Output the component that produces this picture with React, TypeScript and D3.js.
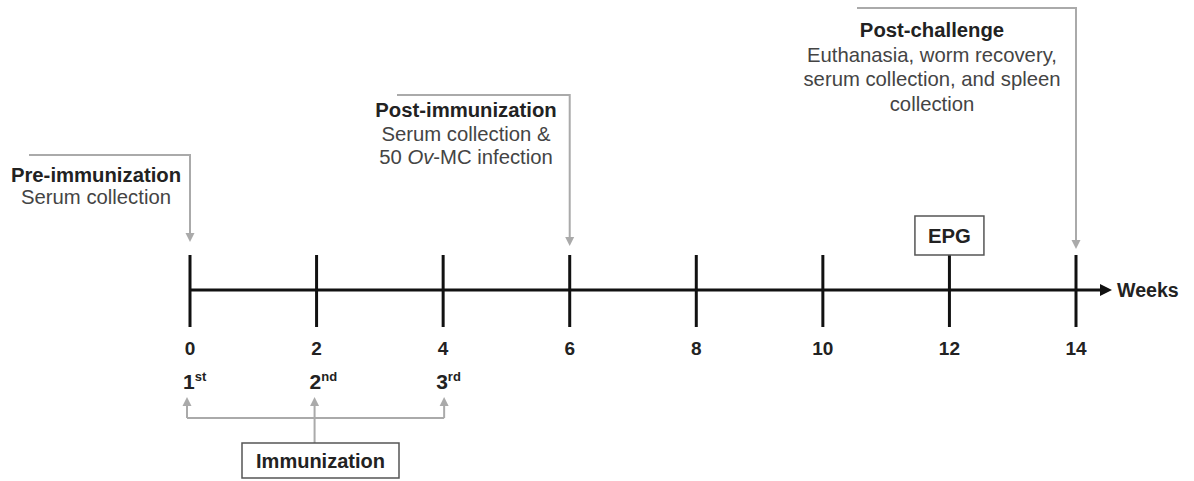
import React from "react";
import * as d3 from "d3";

const weeks = [0, 2, 4, 6, 8, 10, 12, 14];
const immunizationWeeks = [0, 2, 4];
const immunizationNumbers = ["1", "2", "3"];
const immunizationSuffixes = ["st", "nd", "rd"];
const eventWeeks = [0, 6, 14];
const eventTitles = ["Pre-immunization", "Post-immunization", "Post-challenge"];
const eventLines: (string | [string, string, string])[][] = [
  ["Serum collection"],
  ["Serum collection &", ["50 ", "Ov", "-MC infection"]],
  ["Euthanasia, worm recovery,", "serum collection, and spleen", "collection"],
];
const epgWeek = 12;
const axisLabel = "Weeks";
const boxLabel = "Immunization";

const W = 1194;
const H = 481;
const FONT = "'Liberation Sans', Arial, sans-serif";
const GRAY = "#aaaaaa";

// layout of each annotation: text centre x, bracket top y, title baseline, leading
const eventLayout = [
  { cx: 96, lineY: 155, titleY: 182, lead: 22, startX: 29, tipY: 242 },
  { cx: 466, lineY: 95, titleY: 117, lead: 23.5, startX: 397, tipY: 246 },
  { cx: 932, lineY: 8, titleY: 37, lead: 24.5, startX: 857, tipY: 249 },
];

function downTri(xc: number, tip: number) {
  return `M${xc - 4.5},${tip - 9} L${xc + 4.5},${tip - 9} L${xc},${tip} Z`;
}
function upTri(xc: number, tip: number) {
  return `M${xc - 4.5},${tip + 9} L${xc + 4.5},${tip + 9} L${xc},${tip} Z`;
}

export default function App() {
  const x = d3.scaleLinear().domain([0, 14]).range([190, 1076]);
  const axisY = 290;
  const axisEnd = 1112;
  const bracketY = 418;
  const bracketTip = 397;

  return (
    <svg
      width={W}
      height={H}
      style={{ position: "absolute", left: 0, top: 0, background: "#fff" }}
      fontFamily={FONT}
    >
      {/* main axis */}
      <line x1={x(0)} x2={axisEnd - 10} y1={axisY} y2={axisY} stroke="#111" strokeWidth={3} />
      <path d={`M${axisEnd - 12},${axisY - 6} L${axisEnd},${axisY} L${axisEnd - 12},${axisY + 6} Z`} fill="#111" />
      <text x={axisEnd + 5} y={axisY + 7} fontSize={19.6} fontWeight="bold" fill="#222">
        {axisLabel}
      </text>

      {weeks.map((w) => (
        <g key={w}>
          <line x1={x(w)} x2={x(w)} y1={axisY - 35} y2={axisY + 37} stroke="#111" strokeWidth={3} />
          <text x={x(w)} y={355} fontSize={19} fontWeight="bold" fill="#222" textAnchor="middle">
            {w}
          </text>
        </g>
      ))}

      {/* immunization ordinals */}
      {immunizationWeeks.map((w, i) => (
        <text key={w} x={x(w) - 7} y={389} fontSize={21} fontWeight="bold" fill="#222">
          {immunizationNumbers[i]}
          <tspan fontSize={13} dy={-8}>
            {immunizationSuffixes[i]}
          </tspan>
        </text>
      ))}

      {/* immunization bracket */}
      <line
        x1={x(immunizationWeeks[0]) - 3}
        x2={x(immunizationWeeks[immunizationWeeks.length - 1]) + 1}
        y1={bracketY}
        y2={bracketY}
        stroke={GRAY}
        strokeWidth={2}
      />
      {immunizationWeeks.map((w, i) => {
        const xc = x(w) + (i === 0 ? -3 : i === 1 ? -2 : 1);
        return (
          <g key={w}>
            <line
              x1={xc}
              x2={xc}
              y1={i === 1 ? 443 : bracketY}
              y2={bracketTip + 8}
              stroke={GRAY}
              strokeWidth={2}
            />
            <path d={upTri(xc, bracketTip)} fill={GRAY} />
          </g>
        );
      })}
      <rect x={242} y={443} width={157} height={35} fill="#fff" stroke="#555" strokeWidth={1.5} />
      <text x={320.5} y={468} fontSize={20} fontWeight="bold" fill="#222" textAnchor="middle">
        {boxLabel}
      </text>

      {/* EPG box */}
      <rect x={x(epgWeek) - 34.5} y={216} width={69} height={39} fill="#fff" stroke="#555" strokeWidth={1.5} />
      <text x={x(epgWeek)} y={243} fontSize={20.3} fontWeight="bold" fill="#222" textAnchor="middle">
        EPG
      </text>

      {/* event annotations */}
      {eventWeeks.map((w, i) => {
        const L = eventLayout[i];
        const xv = x(w);
        return (
          <g key={w}>
            <path
              d={`M${L.startX},${L.lineY} L${xv},${L.lineY} L${xv},${L.tipY - 8}`}
              fill="none"
              stroke={GRAY}
              strokeWidth={2}
            />
            <path d={downTri(xv, L.tipY)} fill={GRAY} />
            <text x={L.cx} y={L.titleY} fontSize={20.3} fontWeight="bold" fill="#222" textAnchor="middle">
              {eventTitles[i]}
            </text>
            {eventLines[i].map((ln, j) => (
              <text
                key={j}
                x={L.cx}
                y={L.titleY + L.lead * (j + 1)}
                fontSize={20.3}
                fill="#444"
                textAnchor="middle"
              >
                {typeof ln === "string" ? (
                  ln
                ) : (
                  <>
                    {ln[0]}
                    <tspan fontStyle="italic">{ln[1]}</tspan>
                    {ln[2]}
                  </>
                )}
              </text>
            ))}
          </g>
        );
      })}
    </svg>
  );
}
